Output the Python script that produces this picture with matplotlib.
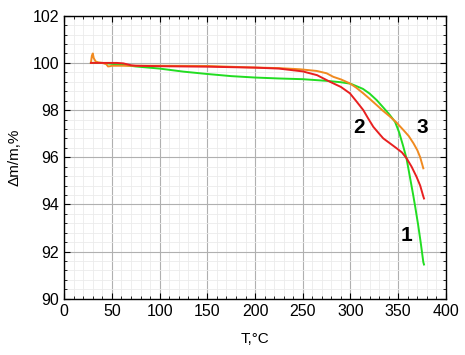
import matplotlib
matplotlib.use("Agg")
import matplotlib.pyplot as plt
from matplotlib.ticker import MultipleLocator

# Curve 1 (green)
t1 = [28, 40, 50, 65, 75, 100, 125, 150, 175, 200, 225, 250, 275, 290, 300, 313, 320, 327.5, 335, 341, 346.7, 351, 355, 358.7, 362, 365.6, 368, 370.8, 373.5, 376.3, 377]
m1 = [100.0, 100.0, 99.96, 99.9, 99.85, 99.76, 99.63, 99.53, 99.44, 99.38, 99.34, 99.31, 99.24, 99.18, 99.12, 98.9, 98.7, 98.42, 98.08, 97.8, 97.5, 97.05, 96.5, 95.95, 95.22, 94.42, 93.85, 93.15, 92.4, 91.55, 91.45]

# Curve 2 (red)
t2 = [28, 40, 55, 62, 70, 75, 100, 150, 200, 225, 250, 265, 278.5, 290, 299.4, 306, 313.4, 318, 323.9, 330, 334.3, 341, 348.3, 354, 358.8, 364, 369.2, 373, 376.2, 377]
m2 = [100.0, 100.0, 100.0, 99.98, 99.9, 99.88, 99.86, 99.84, 99.8, 99.76, 99.64, 99.48, 99.2, 98.98, 98.71, 98.38, 98.0, 97.68, 97.29, 97.0, 96.8, 96.6, 96.38, 96.2, 95.95, 95.6, 95.17, 94.8, 94.35, 94.25]

# Curve 3 (orange)
t3 = [28, 29, 30, 31, 33, 36, 40, 44, 46, 48, 50, 60, 75, 100, 150, 194.7, 225, 247, 264.5, 275, 282, 290, 299.4, 306, 313.4, 320, 327.5, 334, 341.5, 348, 355.5, 361, 366, 370, 373, 376.3]
m3 = [100.0, 100.3, 100.4, 100.2, 100.06, 100.02, 100.0, 99.95, 99.85, 99.86, 99.88, 99.88, 99.88, 99.88, 99.87, 99.81, 99.78, 99.73, 99.66, 99.56, 99.41, 99.3, 99.13, 98.95, 98.71, 98.48, 98.21, 97.97, 97.72, 97.48, 97.15, 96.9, 96.59, 96.3, 96.0, 95.53]

labels = ["1", "2", "3"]
label_pos_t = [359, 309, 375]
label_pos_m = [92.7, 97.24, 97.24]

plt.rcParams['font.family'] = ['Liberation Sans', 'DejaVu Sans']

fig = plt.figure(figsize=(4.65, 3.55), dpi=100)
ax = fig.add_axes([0.138, 0.1586, 0.821, 0.797])

ax.set_xlim(0, 400)
ax.set_ylim(90, 102)
ax.xaxis.set_major_locator(MultipleLocator(50))
ax.xaxis.set_minor_locator(MultipleLocator(10))
ax.yaxis.set_major_locator(MultipleLocator(2))
ax.yaxis.set_minor_locator(MultipleLocator(0.4))

ax.grid(which='major', color='#b0b0b0', linewidth=0.8)
ax.grid(which='minor', color='#ebebeb', linewidth=0.6)
ax.set_axisbelow(True)

ax.tick_params(which='both', direction='in', top=True, right=True, labelsize=11.5, colors='black')
ax.tick_params(which='major', length=4, width=0.8)
ax.tick_params(which='minor', length=2.5, width=0.6)

for s in ax.spines.values():
    s.set_linewidth(1.0)

ax.plot(t1, m1, color='#22dd22', linewidth=1.4)
ax.plot(t3, m3, color='#f08a20', linewidth=1.4)
ax.plot(t2, m2, color='#e82020', linewidth=1.4)

for lab, x, y in zip(labels, label_pos_t, label_pos_m):
    ax.text(x, y, lab, fontsize=15, fontweight='bold', ha='center', va='center')

ax.set_xlabel('T,°C', fontsize=11, labelpad=10)
ax.set_ylabel('Δm/m,%', fontsize=11, labelpad=8)

fig.savefig('out.png', dpi=100)
